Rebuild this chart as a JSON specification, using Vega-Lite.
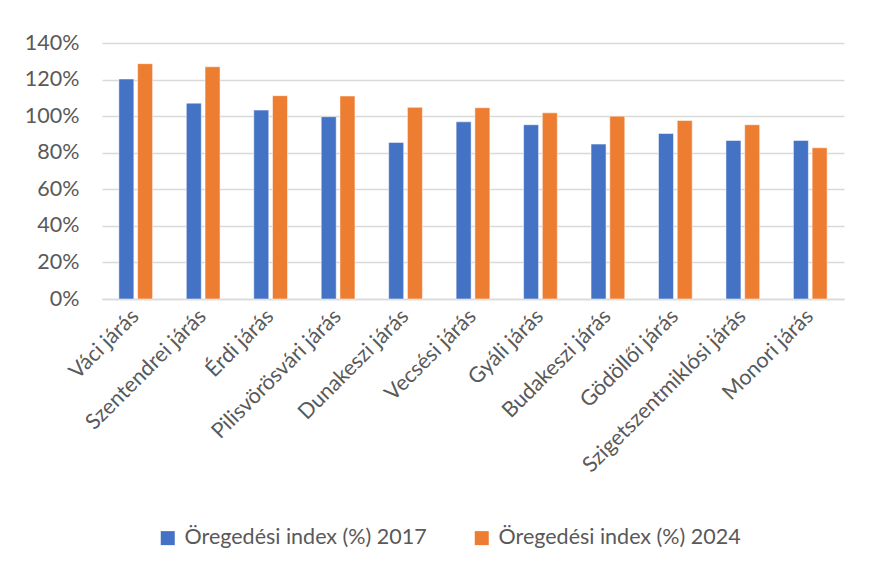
{
  "$schema": "https://vega.github.io/schema/vega-lite/v6.json",
  "autosize": {"type": "none"},
  "padding": {"left": 102, "top": 43, "right": 25, "bottom": 273},
  "width": 742,
  "height": 256,
  "background": "white",
  "data": {
    "values": [
      {"jaras": "Váci járás", "series": "Öregedési index (%) 2017", "value": 120.3},
      {"jaras": "Váci járás", "series": "Öregedési index (%) 2024", "value": 128.7},
      {"jaras": "Szentendrei járás", "series": "Öregedési index (%) 2017", "value": 107.1},
      {"jaras": "Szentendrei járás", "series": "Öregedési index (%) 2024", "value": 127.0},
      {"jaras": "Érdi járás", "series": "Öregedési index (%) 2017", "value": 103.3},
      {"jaras": "Érdi járás", "series": "Öregedési index (%) 2024", "value": 111.2},
      {"jaras": "Pilisvörösvári járás", "series": "Öregedési index (%) 2017", "value": 99.7},
      {"jaras": "Pilisvörösvári járás", "series": "Öregedési index (%) 2024", "value": 111.0},
      {"jaras": "Dunakeszi járás", "series": "Öregedési index (%) 2017", "value": 85.6},
      {"jaras": "Dunakeszi járás", "series": "Öregedési index (%) 2024", "value": 104.8},
      {"jaras": "Vecsési járás", "series": "Öregedési index (%) 2017", "value": 96.9},
      {"jaras": "Vecsési járás", "series": "Öregedési index (%) 2024", "value": 104.6},
      {"jaras": "Gyáli járás", "series": "Öregedési index (%) 2017", "value": 95.3},
      {"jaras": "Gyáli járás", "series": "Öregedési index (%) 2024", "value": 101.8},
      {"jaras": "Budakeszi járás", "series": "Öregedési index (%) 2017", "value": 84.7},
      {"jaras": "Budakeszi járás", "series": "Öregedési index (%) 2024", "value": 100.0},
      {"jaras": "Gödöllői járás", "series": "Öregedési index (%) 2017", "value": 90.5},
      {"jaras": "Gödöllői járás", "series": "Öregedési index (%) 2024", "value": 97.6},
      {"jaras": "Szigetszentmiklósi járás", "series": "Öregedési index (%) 2017", "value": 86.7},
      {"jaras": "Szigetszentmiklósi járás", "series": "Öregedési index (%) 2024", "value": 95.3},
      {"jaras": "Monori járás", "series": "Öregedési index (%) 2017", "value": 86.7},
      {"jaras": "Monori járás", "series": "Öregedési index (%) 2024", "value": 82.7}
    ]
  },
  "mark": {"type": "bar", "stroke": "white", "strokeWidth": 0.5},
  "encoding": {
    "x": {
      "field": "jaras",
      "type": "nominal",
      "sort": null,
      "scale": {"paddingInner": 0.5, "paddingOuter": 0.25},
      "axis": {
        "title": null,
        "labelAngle": -45,
        "labelAlign": "right",
        "labelBaseline": "middle",
        "labelFont": "Lato",
        "labelFontSize": 21.5,
        "labelColor": "#595959",
        "labelPadding": 14,
        "labelLimit": 400,
        "labelOverlap": false,
        "ticks": false,
        "domain": true,
        "domainColor": "#d9d9d9",
        "domainWidth": 1.5,
        "grid": false
      }
    },
    "xOffset": {
      "field": "series",
      "type": "nominal",
      "scale": {"paddingInner": 0.2}
    },
    "y": {
      "field": "value",
      "type": "quantitative",
      "scale": {"domain": [0, 140]},
      "axis": {
        "title": null,
        "values": [0, 20, 40, 60, 80, 100, 120, 140],
        "labelExpr": "datum.value + '%'",
        "labelFont": "Lato",
        "labelFontSize": 21.5,
        "labelColor": "#595959",
        "labelPadding": 23,
        "ticks": false,
        "domain": false,
        "grid": true,
        "gridColor": "#d9d9d9",
        "gridWidth": 1.5
      }
    },
    "color": {
      "field": "series",
      "type": "nominal",
      "scale": {"range": ["#4472C4", "#ED7D31"]},
      "legend": {
        "title": null,
        "orient": "none",
        "direction": "horizontal",
        "legendX": 55,
        "legendY": 484,
        "symbolType": "square",
        "symbolSize": 196,
        "symbolStrokeWidth": 0,
        "symbolOpacity": 1,
        "labelFont": "Lato",
        "labelFontSize": 21.5,
        "labelColor": "#595959",
        "labelOffset": 6,
        "columnPadding": 44,
        "labelLimit": 400
      }
    }
  },
  "config": {"view": {"stroke": null}}
}
